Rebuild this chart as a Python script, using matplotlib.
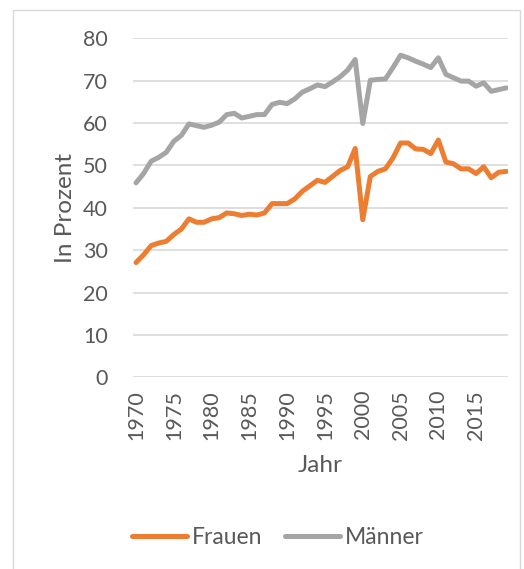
import matplotlib.pyplot as plt
from matplotlib.patches import Rectangle

# Daten
jahre = list(range(1970, 2020))
frauen = [27.1, 28.9, 31.1, 31.7, 32.1, 33.7, 35.0, 37.4, 36.6, 36.6,
          37.4, 37.7, 38.8, 38.6, 38.2, 38.5, 38.3, 38.8, 41.0, 41.0,
          41.0, 42.1, 43.9, 45.2, 46.5, 46.0, 47.4, 48.8, 49.7, 54.0,
          37.2, 47.4, 48.6, 49.2, 51.8, 55.3, 55.3, 53.9, 53.8, 52.8,
          56.0, 50.8, 50.4, 49.2, 49.2, 48.1, 49.7, 47.1, 48.4, 48.6]
maenner = [45.9, 48.1, 51.0, 51.9, 53.1, 55.7, 57.1, 59.8, 59.4, 59.0,
           59.5, 60.2, 62.0, 62.3, 61.2, 61.6, 62.0, 62.0, 64.4, 64.9,
           64.6, 65.7, 67.3, 68.1, 69.0, 68.6, 69.7, 70.9, 72.5, 75.0,
           59.9, 70.1, 70.3, 70.4, 73.1, 76.0, 75.4, 74.6, 73.9, 73.1,
           75.4, 71.5, 70.7, 69.9, 69.9, 68.7, 69.5, 67.5, 67.9, 68.3]
xticks = list(range(1970, 2020, 5))
yticks = list(range(0, 90, 10))

plt.rcParams['font.family'] = ['Lato', 'DejaVu Sans']
txt = '#595959'

fig = plt.figure(figsize=(5.24, 5.69), dpi=100)
# Rahmen um das Diagramm
fig.patches.append(Rectangle((12.5 / 524, -0.05), (520 - 12.5) / 524, 1.05 - 9.5 / 569,
                             transform=fig.transFigure, fill=False,
                             edgecolor='#d9d9d9', linewidth=1.0))

ax = fig.add_axes([133 / 524, 1 - 377.4 / 569, (507.5 - 133) / 524, (377.4 - 38.3) / 569])
ax.plot(jahre, frauen, color='#ED7D31', linewidth=3.6, label='Frauen',
        solid_joinstyle='round', solid_capstyle='round')
ax.plot(jahre, maenner, color='#A5A5A5', linewidth=3.6, label='Männer',
        solid_joinstyle='round', solid_capstyle='round')

ax.set_xlim(1969.6, 2019.15)
ax.set_ylim(0, 80)
ax.set_yticks(yticks)
ax.set_xticks(xticks)
ax.set_xticklabels([str(j) for j in xticks], rotation=90)
ax.grid(axis='y', color='#d9d9d9', linewidth=1.2)
ax.set_axisbelow(True)
for s in ax.spines.values():
    s.set_visible(False)
ax.tick_params(length=0, labelsize=15.5, colors=txt)
ax.tick_params(axis='y', pad=18)
ax.tick_params(axis='x', pad=9)

ax.set_ylabel('In Prozent', fontsize=17.5, color=txt, labelpad=5)
ax.set_xlabel('Jahr', fontsize=17.5, color=txt, labelpad=11)

fig.legend(loc='center', bbox_to_anchor=(278 / 524, 1 - 538 / 569), ncol=2,
           frameon=False, fontsize=16.5, labelcolor=txt, handlelength=2.4,
           handletextpad=0.2, columnspacing=1.0)

fig.savefig('out.png', dpi=100)
